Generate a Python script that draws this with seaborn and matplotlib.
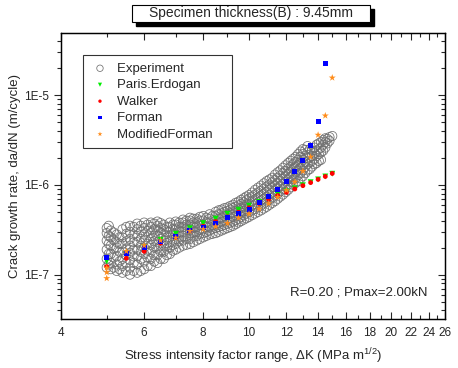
import numpy as np
import matplotlib
matplotlib.use("Agg")
import matplotlib.pyplot as plt
import seaborn as sns
from matplotlib.ticker import FixedLocator, FuncFormatter, LogLocator, NullFormatter
from matplotlib.patches import Rectangle

sns.set_style("white")
plt.rcParams['font.family'] = ['Liberation Sans', 'DejaVu Sans']
plt.rcParams['mathtext.default'] = 'regular'

# experiment: (dK, list of da/dN)
exp_cols = [
    (5.0, [1.2e-7, 1.5e-7, 1.9e-7, 2.4e-7, 2.9e-7, 3.3e-7]),
    (5.05, [1.3e-7, 1.7e-7, 2.2e-7, 2.7e-7, 3.5e-7]),
    (5.1, [1.15e-7, 1.35e-7, 1.7e-7, 2.1e-7, 2.6e-7, 3.1e-7]),
    (5.17, [1.2e-7, 1.55e-7, 1.95e-7, 2.45e-7, 2.95e-7]),
    (5.25, [1.1e-7, 1.3e-7, 1.6e-7, 2.0e-7, 2.3e-7, 2.8e-7]),
    (5.32, [1.15e-7, 1.4e-7, 1.8e-7, 2.2e-7, 2.6e-7]),
    (5.4, [1.05e-7, 1.25e-7, 1.5e-7, 1.8e-7, 2.2e-7, 2.6e-7, 3.2e-7]),
    (5.5, [1.1e-7, 1.35e-7, 1.65e-7, 1.95e-7, 2.35e-7, 2.85e-7, 3.4e-7]),
    (5.6, [1.0e-7, 1.2e-7, 1.45e-7, 1.75e-7, 2.1e-7, 2.5e-7, 3.0e-7, 3.5e-7]),
    (5.7, [1.1e-7, 1.35e-7, 1.6e-7, 1.9e-7, 2.3e-7, 2.8e-7, 3.4e-7]),
    (5.8, [1.05e-7, 1.3e-7, 1.6e-7, 1.9e-7, 2.3e-7, 2.7e-7, 3.2e-7, 3.7e-7]),
    (5.9, [1.1e-7, 1.5e-7, 1.8e-7, 2.1e-7, 2.5e-7, 3.0e-7, 3.5e-7]),
    (6.0, [1.15e-7, 1.4e-7, 1.7e-7, 2.0e-7, 2.4e-7, 2.8e-7, 3.3e-7, 3.8e-7]),
    (6.1, [1.25e-7, 1.55e-7, 1.85e-7, 2.2e-7, 2.6e-7, 3.05e-7, 3.6e-7]),
    (6.2, [1.25e-7, 1.5e-7, 1.8e-7, 2.15e-7, 2.5e-7, 2.9e-7, 3.4e-7, 3.8e-7]),
    (6.3, [1.4e-7, 1.65e-7, 2.0e-7, 2.35e-7, 2.7e-7, 3.2e-7, 3.7e-7]),
    (6.4, [1.35e-7, 1.65e-7, 1.95e-7, 2.3e-7, 2.7e-7, 3.1e-7, 3.5e-7, 3.9e-7]),
    (6.5, [1.5e-7, 1.8e-7, 2.1e-7, 2.5e-7, 2.9e-7, 3.3e-7, 3.75e-7]),
    (6.6, [1.5e-7, 1.8e-7, 2.1e-7, 2.4e-7, 2.8e-7, 3.2e-7, 3.6e-7]),
    (6.7, [1.65e-7, 1.95e-7, 2.25e-7, 2.6e-7, 3.0e-7, 3.4e-7]),
    (6.8, [1.7e-7, 2.0e-7, 2.3e-7, 2.6e-7, 3.0e-7, 3.4e-7, 3.8e-7]),
    (6.9, [1.85e-7, 2.15e-7, 2.45e-7, 2.8e-7, 3.2e-7, 3.6e-7]),
    (7.0, [1.9e-7, 2.2e-7, 2.5e-7, 2.8e-7, 3.2e-7, 3.6e-7, 3.9e-7]),
    (7.12, [2.0e-7, 2.35e-7, 2.65e-7, 3.0e-7, 3.4e-7, 3.8e-7]),
    (7.25, [2.1e-7, 2.4e-7, 2.7e-7, 3.0e-7, 3.4e-7, 3.8e-7, 4.1e-7]),
    (7.37, [2.15e-7, 2.5e-7, 2.85e-7, 3.2e-7, 3.6e-7, 4.0e-7]),
    (7.5, [2.2e-7, 2.5e-7, 2.9e-7, 3.2e-7, 3.6e-7, 4.0e-7, 4.3e-7]),
    (7.62, [2.3e-7, 2.65e-7, 3.0e-7, 3.4e-7, 3.8e-7, 4.2e-7]),
    (7.75, [2.4e-7, 2.7e-7, 3.0e-7, 3.4e-7, 3.8e-7, 4.2e-7]),
    (7.87, [2.5e-7, 2.85e-7, 3.2e-7, 3.6e-7, 4.0e-7, 4.4e-7]),
    (8.0, [2.6e-7, 2.9e-7, 3.2e-7, 3.6e-7, 4.0e-7, 4.5e-7]),
    (8.12, [2.7e-7, 3.0e-7, 3.4e-7, 3.8e-7, 4.3e-7]),
    (8.25, [2.8e-7, 3.1e-7, 3.4e-7, 3.8e-7, 4.2e-7, 4.7e-7]),
    (8.37, [2.85e-7, 3.25e-7, 3.6e-7, 4.0e-7, 4.5e-7]),
    (8.5, [2.9e-7, 3.3e-7, 3.6e-7, 4.0e-7, 4.5e-7, 5.0e-7]),
    (8.62, [3.0e-7, 3.4e-7, 3.8e-7, 4.2e-7, 4.7e-7, 5.2e-7]),
    (8.75, [3.1e-7, 3.5e-7, 3.9e-7, 4.3e-7, 4.8e-7, 5.3e-7]),
    (8.87, [3.2e-7, 3.6e-7, 4.0e-7, 4.5e-7, 5.0e-7, 5.5e-7]),
    (9.0, [3.3e-7, 3.7e-7, 4.1e-7, 4.6e-7, 5.1e-7, 5.6e-7]),
    (9.12, [3.4e-7, 3.8e-7, 4.3e-7, 4.8e-7, 5.3e-7, 5.8e-7]),
    (9.25, [3.5e-7, 3.9e-7, 4.4e-7, 4.9e-7, 5.5e-7, 6.0e-7]),
    (9.37, [3.65e-7, 4.05e-7, 4.55e-7, 5.1e-7, 5.7e-7, 6.3e-7]),
    (9.5, [3.8e-7, 4.2e-7, 4.7e-7, 5.3e-7, 5.9e-7, 6.5e-7]),
    (9.62, [3.95e-7, 4.4e-7, 4.9e-7, 5.5e-7, 6.1e-7, 6.8e-7]),
    (9.75, [4.1e-7, 4.6e-7, 5.1e-7, 5.7e-7, 6.4e-7, 7.1e-7]),
    (9.87, [4.25e-7, 4.8e-7, 5.35e-7, 6.0e-7, 6.7e-7, 7.4e-7]),
    (10.0, [4.4e-7, 5.0e-7, 5.6e-7, 6.2e-7, 7.0e-7, 7.7e-7]),
    (10.15, [4.6e-7, 5.2e-7, 5.85e-7, 6.55e-7, 7.4e-7, 8.2e-7]),
    (10.3, [4.8e-7, 5.4e-7, 6.1e-7, 6.9e-7, 7.8e-7, 8.8e-7]),
    (10.45, [5.0e-7, 5.65e-7, 6.4e-7, 7.2e-7, 8.2e-7, 9.3e-7]),
    (10.6, [5.2e-7, 5.9e-7, 6.7e-7, 7.6e-7, 8.6e-7, 9.8e-7]),
    (10.75, [5.45e-7, 6.2e-7, 7.0e-7, 8.0e-7, 9.1e-7, 1.04e-6]),
    (10.9, [5.7e-7, 6.5e-7, 7.4e-7, 8.4e-7, 9.6e-7, 1.1e-6]),
    (11.05, [6.0e-7, 6.85e-7, 7.8e-7, 8.9e-7, 1.01e-6, 1.15e-6]),
    (11.2, [6.3e-7, 7.2e-7, 8.2e-7, 9.4e-7, 1.07e-6, 1.2e-6]),
    (11.35, [6.6e-7, 7.6e-7, 8.7e-7, 9.9e-7, 1.13e-6, 1.3e-6]),
    (11.5, [7.0e-7, 8.0e-7, 9.2e-7, 1.05e-6, 1.2e-6, 1.38e-6]),
    (11.65, [7.4e-7, 8.5e-7, 9.7e-7, 1.11e-6, 1.27e-6, 1.45e-6]),
    (11.8, [7.8e-7, 9.0e-7, 1.03e-6, 1.18e-6, 1.35e-6, 1.55e-6]),
    (11.95, [8.3e-7, 9.5e-7, 1.09e-6, 1.25e-6, 1.43e-6, 1.65e-6]),
    (12.1, [8.8e-7, 1.0e-6, 1.15e-6, 1.32e-6, 1.52e-6, 1.75e-6]),
    (12.25, [9.4e-7, 1.08e-6, 1.22e-6, 1.4e-6, 1.6e-6, 1.85e-6]),
    (12.4, [1.0e-6, 1.15e-6, 1.3e-6, 1.5e-6, 1.7e-6, 1.95e-6]),
    (12.55, [1.05e-6, 1.2e-6, 1.38e-6, 1.58e-6, 1.8e-6, 2.05e-6]),
    (12.7, [1.1e-6, 1.28e-6, 1.45e-6, 1.65e-6, 1.9e-6, 2.2e-6]),
    (12.85, [1.18e-6, 1.36e-6, 1.55e-6, 1.78e-6, 2.05e-6, 2.35e-6]),
    (13.0, [1.25e-6, 1.45e-6, 1.65e-6, 1.9e-6, 2.2e-6, 2.5e-6]),
    (13.15, [1.35e-6, 1.58e-6, 1.8e-6, 2.1e-6, 2.45e-6]),
    (13.3, [1.45e-6, 1.7e-6, 2.0e-6, 2.3e-6, 2.7e-6]),
    (13.45, [1.5e-6, 1.78e-6, 2.05e-6, 2.5e-6]),
    (13.6, [1.6e-6, 1.85e-6, 2.1e-6, 2.4e-6]),
    (13.75, [1.7e-6, 1.95e-6, 2.25e-6, 2.6e-6]),
    (13.9, [1.75e-6, 2.1e-6, 2.4e-6, 2.8e-6]),
    (14.05, [1.85e-6, 2.2e-6, 2.5e-6, 2.9e-6]),
    (14.2, [1.9e-6, 2.3e-6, 2.6e-6, 3.0e-6]),
    (14.35, [2.4e-6, 2.8e-6, 3.15e-6]),
    (14.5, [2.6e-6, 3.0e-6, 3.3e-6]),
    (14.65, [2.9e-6, 3.25e-6]),
    (14.8, [3.1e-6, 3.4e-6]),
    (15.0, [3.5e-6]),
]
exp_dk = [dk for dk, rates in exp_cols for _ in rates]
exp_rate = [r for _, rates in exp_cols for r in rates]

# model predictions
model_dk = [5.0, 5.5, 6.0, 6.5, 7.0, 7.5, 8.0, 8.5, 9.0, 9.5, 10.0,
            10.5, 11.0, 11.5, 12.0, 12.5, 13.0, 13.5, 14.0, 14.5, 15.0]
paris = [1.41e-7, 1.67e-7, 2.0e-7, 2.44e-7, 2.85e-7, 3.29e-7, 3.74e-7, 4.2e-7, 4.76e-7, 5.28e-7, 5.85e-7,
         6.45e-7, 7.1e-7, 7.75e-7, 8.45e-7, 9.15e-7, 9.9e-7, 1.07e-6, 1.15e-6, 1.24e-6, 1.33e-6]
walker = [1.23e-7, 1.52e-7, 1.82e-7, 2.24e-7, 2.62e-7, 3.1e-7, 3.45e-7, 3.9e-7, 4.4e-7, 4.95e-7, 5.55e-7,
          6.2e-7, 6.9e-7, 7.6e-7, 8.25e-7, 9.0e-7, 9.8e-7, 1.06e-6, 1.15e-6, 1.24e-6, 1.34e-6]
forman = [1.56e-7, 1.7e-7, 1.99e-7, 2.34e-7, 2.68e-7, 3.1e-7, 3.39e-7, 3.74e-7, 4.35e-7, 4.76e-7, 5.28e-7,
          6.4e-7, 7.5e-7, 8.9e-7, 1.10e-6, 1.42e-6, 1.88e-6, 2.76e-6, 5.03e-6, 2.22e-5, np.nan]
mod_dk = [5.0, 5.0, 5.0, 5.5, 6.0, 6.5, 7.0, 7.5, 8.0, 8.5, 9.0, 9.5, 10.0,
          10.5, 11.0, 11.5, 12.0, 12.5, 13.0, 13.5, 14.0, 14.5, 15.0]
mod_forman = [1.19e-7, 1.06e-7, 9.1e-8, 1.82e-7, 2.11e-7, 2.4e-7, 2.57e-7, 3.05e-7, 3.2e-7, 3.44e-7, 3.74e-7,
              4.29e-7, 4.76e-7, 5.4e-7, 6.2e-7, 7.3e-7, 8.7e-7, 1.08e-6, 1.42e-6, 2.05e-6, 3.6e-6, 5.9e-6, 1.56e-5]

fig = plt.figure(figsize=(4.58, 3.68), dpi=100)
ax = fig.add_axes([0.133, 0.133, 0.839, 0.777])

sns.scatterplot(x=exp_dk, y=exp_rate, ax=ax, marker='o', s=44, color='none',
                edgecolor='#707070', linewidth=0.55, label='Experiment')
sns.scatterplot(x=model_dk, y=paris, ax=ax, marker='v', s=18, color='#00ee00',
                edgecolor='none', label='Paris.Erdogan')
sns.scatterplot(x=model_dk, y=walker, ax=ax, marker='o', s=12, color='#ff0000',
                edgecolor='none', label='Walker')
sns.scatterplot(x=model_dk, y=forman, ax=ax, marker='s', s=13, color='#0000ff',
                edgecolor='none', label='Forman')
sns.scatterplot(x=mod_dk, y=mod_forman, ax=ax, marker='*', s=28, color='#ff8c1a',
                edgecolor='none', label='ModifiedForman')

ax.set_xscale('log')
ax.set_yscale('log')
ax.set_xlim(4, 26)
ax.set_ylim(3.2e-8, 4.9e-5)

ax.xaxis.set_major_locator(FixedLocator(list(range(4, 27, 2))))
ax.xaxis.set_minor_locator(FixedLocator(list(range(5, 26, 2))))
ax.xaxis.set_major_formatter(FuncFormatter(lambda v, p: f"{v:g}"))
ax.xaxis.set_minor_formatter(NullFormatter())
ax.yaxis.set_major_locator(LogLocator(base=10))
ax.yaxis.set_minor_locator(LogLocator(base=10, subs=np.arange(2, 10)))
ax.yaxis.set_major_formatter(FuncFormatter(lambda v, p: f"1E{int(round(np.log10(v)))}"))
ax.yaxis.set_minor_formatter(NullFormatter())

ax.tick_params(axis='x', which='both', direction='in', top=True, bottom=True, labelsize=8.5, pad=6)
ax.tick_params(axis='x', which='major', length=5, width=0.8)
ax.tick_params(axis='x', which='minor', length=3, width=0.8)
ax.tick_params(axis='y', which='both', direction='out', left=True, right=False, labelsize=8.5)
ax.tick_params(axis='y', which='major', length=5, width=0.8)
ax.tick_params(axis='y', which='minor', length=3, width=0.8)

ax2 = ax.twinx()
ax2.set_yscale('log')
ax2.set_ylim(ax.get_ylim())
ax2.yaxis.set_major_locator(LogLocator(base=10))
ax2.yaxis.set_minor_locator(LogLocator(base=10, subs=np.arange(2, 10)))
ax2.yaxis.set_major_formatter(NullFormatter())
ax2.yaxis.set_minor_formatter(NullFormatter())
ax2.tick_params(axis='y', which='both', direction='in', right=True, left=False)
ax2.tick_params(axis='y', which='major', length=5, width=0.8)
ax2.tick_params(axis='y', which='minor', length=3, width=0.8)

for a in (ax, ax2):
    for sp in a.spines.values():
        sp.set_color('black')
        sp.set_linewidth(0.9)

ax.set_xlabel('Stress intensity factor range, ΔK (MPa m$^{1/2}$)', fontsize=9.5, labelpad=5)
ax.set_ylabel('Crack growth rate, da/dN (m/cycle)', fontsize=9.5, labelpad=2)

leg = ax.legend(loc='upper left', bbox_to_anchor=(0.057, 0.925), borderaxespad=0,
                fontsize=9.5, frameon=True, fancybox=False, labelspacing=0.32,
                handletextpad=0.6, handlelength=1.4, borderpad=0.6, markerscale=0.7)
leg.get_frame().set_edgecolor('black')
leg.get_frame().set_linewidth(0.8)
for t in leg.get_texts():
    t.set_text(t.get_text() + '   ')

ax.text(0.775, 0.094, 'R=0.20 ; Pmax=2.00kN', transform=ax.transAxes,
        ha='center', va='center', fontsize=9.5)

# title box with drop shadow
fig.patches.append(Rectangle((136 / 458, 1 - 26 / 368), 238 / 458, 17 / 368,
                             transform=fig.transFigure, facecolor='black', edgecolor='black'))
fig.patches.append(Rectangle((132 / 458, 1 - 22 / 368), 238 / 458, 17 / 368,
                             transform=fig.transFigure, facecolor='white', edgecolor='black', linewidth=0.8))
fig.text(251 / 458, 1 - 13.5 / 368, 'Specimen thickness(B) : 9.45mm', ha='center', va='center', fontsize=10)

fig.savefig('out.png', dpi=100)
